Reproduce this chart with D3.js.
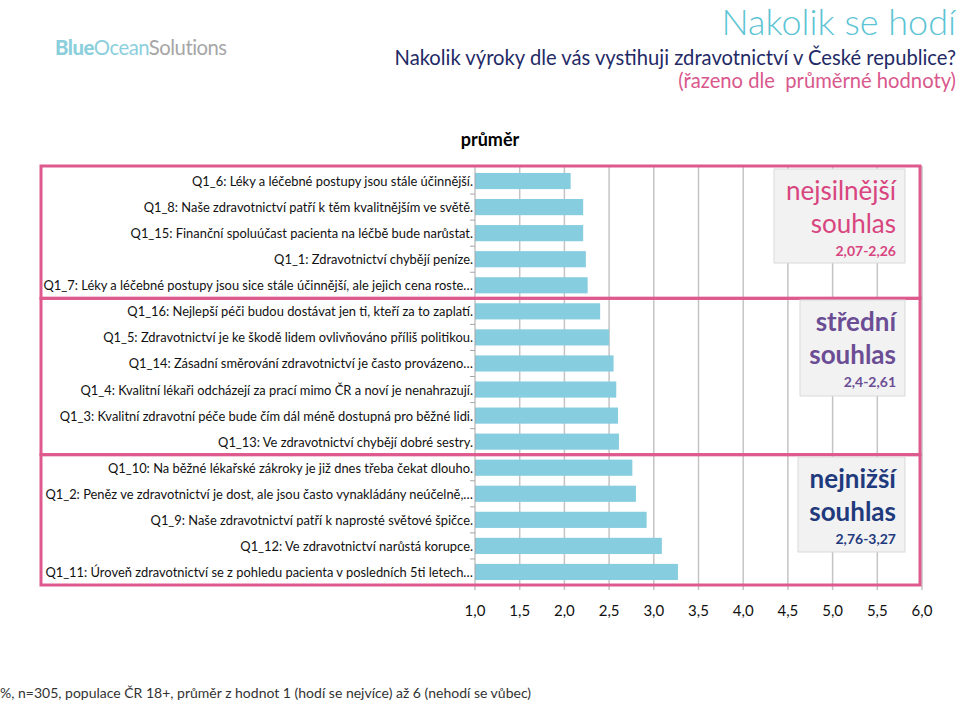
<!DOCTYPE html>
<html><head><meta charset="utf-8">
<script src="https://cdn.jsdelivr.net/npm/d3@7"></script>
<style>body{margin:0;background:#fff}svg{display:block}text{font-family:Lato,"Open Sans",sans-serif}</style>
</head><body><svg id="c" width="960" height="704"></svg>
<script>
const categories = [
 "Q1_6: Léky a léčebné postupy jsou stále účinnější.",
 "Q1_8: Naše zdravotnictví patří k těm kvalitnějším ve světě.",
 "Q1_15: Finanční spoluúčast pacienta na léčbě bude narůstat.",
 "Q1_1: Zdravotnictví chybějí peníze.",
 "Q1_7: Léky a léčebné postupy jsou sice stále účinnější, ale jejich cena roste…",
 "Q1_16: Nejlepší péči budou dostávat jen ti, kteří za to zaplatí.",
 "Q1_5: Zdravotnictví je ke škodě lidem ovlivňováno příliš politikou.",
 "Q1_14: Zásadní směrování zdravotnictví je často provázeno…",
 "Q1_4: Kvalitní lékaři odcházejí za prací mimo ČR a noví je nenahrazují.",
 "Q1_3: Kvalitní zdravotní péče bude čím dál méně dostupná pro běžné lidi.",
 "Q1_13: Ve zdravotnictví chybějí dobré sestry.",
 "Q1_10: Na běžné lékařské zákroky je již dnes třeba čekat dlouho.",
 "Q1_2: Peněz ve zdravotnictví je dost, ale jsou často vynakládány neúčelně,…",
 "Q1_9: Naše zdravotnictví patří k naprosté světové špičce.",
 "Q1_12: Ve zdravotnictví narůstá korupce.",
 "Q1_11: Úroveň zdravotnictví se z pohledu pacienta v posledních 5ti letech…"
];
const values = [2.07, 2.21, 2.21, 2.24, 2.26, 2.40, 2.50, 2.55, 2.58, 2.60, 2.61, 2.76, 2.80, 2.92, 3.09, 3.27];
const groupStarts = [0, 5, 11];
const groupEnds = [4, 10, 15];
const groupWord1 = ["nejsilnější", "střední", "nejnižší"];
const groupWord2 = ["souhlas", "souhlas", "souhlas"];
const groupRange = ["2,07-2,26", "2,4-2,61", "2,76-3,27"];
const xTicks = [1.0, 1.5, 2.0, 2.5, 3.0, 3.5, 4.0, 4.5, 5.0, 5.5, 6.0];

const svg = d3.select("#c");
const x = d3.scaleLinear().domain([1, 6]).range([475, 922]);
const y = d3.scaleBand().domain(categories).range([168, 585]).paddingInner(0.38).paddingOuter(0.19);
const fmt = v => d3.format(".1f")(v).replace(".", ",");

// logo
const logo = svg.append("text").attr("x", 55).attr("y", 55).attr("font-size", 20.3).attr("letter-spacing", -0.5);
logo.append("tspan").text("Blue").attr("font-weight", 900).attr("fill", "#8ccfdc");
logo.append("tspan").text("Ocean").attr("fill", "#8ccfdc");
logo.append("tspan").text("Solutions").attr("fill", "#a6a6a6");

// titles
svg.append("text").attr("x", 956).attr("y", 35).attr("text-anchor", "end").attr("font-size", 36).attr("fill", "#5cc4d4").attr("font-weight", 300).text("Nakolik se hodí");
svg.append("text").attr("x", 956).attr("y", 65).attr("text-anchor", "end").attr("font-size", 20.2).attr("fill", "#1f2a66").text("Nakolik výroky dle vás vystihuji zdravotnictví v České republice?");
svg.append("text").attr("x", 956).attr("y", 88).attr("text-anchor", "end").attr("font-size", 20.2).attr("fill", "#d9588c").attr("xml:space", "preserve").text("(řazeno dle  průměrné hodnoty)");
svg.append("text").attr("x", 490).attr("y", 146).attr("text-anchor", "middle").attr("font-size", 18).attr("font-weight", "bold").attr("fill", "#000").text("průměr");

// gridlines
svg.append("g").selectAll("line").data(xTicks.slice(1)).join("line")
  .attr("x1", d => x(d)).attr("x2", d => x(d)).attr("y1", 166).attr("y2", 590)
  .attr("stroke", "#c4c4c4").attr("stroke-width", 1.5);

// bars
svg.append("g").selectAll("rect").data(categories).join("rect")
  .attr("x", x(1)).attr("y", d => y(d)).attr("height", y.bandwidth())
  .attr("width", (d, i) => x(values[i]) - x(1)).attr("fill", "#86cde0");

// y axis line & category ticks
svg.append("line").attr("x1", x(1)).attr("x2", x(1)).attr("y1", 166).attr("y2", 590).attr("stroke", "#a6a6a6").attr("stroke-width", 1);
const bounds = categories.slice(1).map(c => y(c) - y.step() * y.paddingInner() / 2);
svg.append("g").selectAll("line").data(bounds).join("line")
  .attr("x1", x(1) - 5).attr("x2", x(1)).attr("y1", d => d).attr("y2", d => d).attr("stroke", "#a6a6a6");

// labels
svg.append("g").selectAll("text").data(categories).join("text")
  .attr("x", 473).attr("y", d => y(d) + y.bandwidth() / 2 + 5)
  .attr("text-anchor", "end").attr("font-size", 12.9).attr("fill", "#111").text(d => d);

// x tick labels
svg.append("g").selectAll("text").data(xTicks).join("text")
  .attr("x", d => x(d)).attr("y", 616).attr("text-anchor", "middle")
  .attr("font-size", 15).attr("fill", "#111").text(fmt);

// pink group frames
const frameTop = i => i === 0 ? 166 : (y(categories[groupStarts[i]]) + y(categories[groupEnds[i-1]]) + y.bandwidth()) / 2;
const frameBot = i => i === 2 ? 585 : frameTop(i + 1);
svg.append("g").selectAll("rect").data(groupStarts).join("rect")
  .attr("x", 41).attr("width", 879).attr("y", (d, i) => frameTop(i)).attr("height", (d, i) => frameBot(i) - frameTop(i))
  .attr("fill", "none").attr("stroke", "#de5a8e").attr("stroke-width", 3);

// callout boxes
const boxes = [
 {x0: 774, y0: 169, y1: 263, col: "#d8457f", w: "normal"},
 {x0: 800, y0: 300, y1: 396, col: "#6b4d95", w: "bold"},
 {x0: 798, y0: 457, y1: 552, col: "#1f3a7d", w: "bold"}
];
boxes.forEach((b, i) => {
  svg.append("rect").attr("x", b.x0).attr("y", b.y0).attr("width", 905 - b.x0).attr("height", b.y1 - b.y0)
    .attr("fill", "#f2f2f2").attr("stroke", "#d9d9d9");
  svg.append("text").attr("x", 896).attr("y", b.y0 + 31).attr("text-anchor", "end").attr("font-size", 26).attr("font-weight", b.w).attr("fill", b.col).text(groupWord1[i]);
  svg.append("text").attr("x", 896).attr("y", b.y0 + 64).attr("text-anchor", "end").attr("font-size", 26).attr("font-weight", b.w).attr("fill", b.col).text(groupWord2[i]);
  svg.append("text").attr("x", 896).attr("y", b.y0 + 87).attr("text-anchor", "end").attr("font-size", 14).attr("font-weight", "bold").attr("fill", b.col).text(groupRange[i]);
});

// footer
svg.append("text").attr("x", 0).attr("y", 698).attr("font-size", 14).attr("fill", "#333").text("%, n=305, populace ČR 18+, průměr z hodnot 1 (hodí se nejvíce) až 6 (nehodí se vůbec)");
</script></body></html>
